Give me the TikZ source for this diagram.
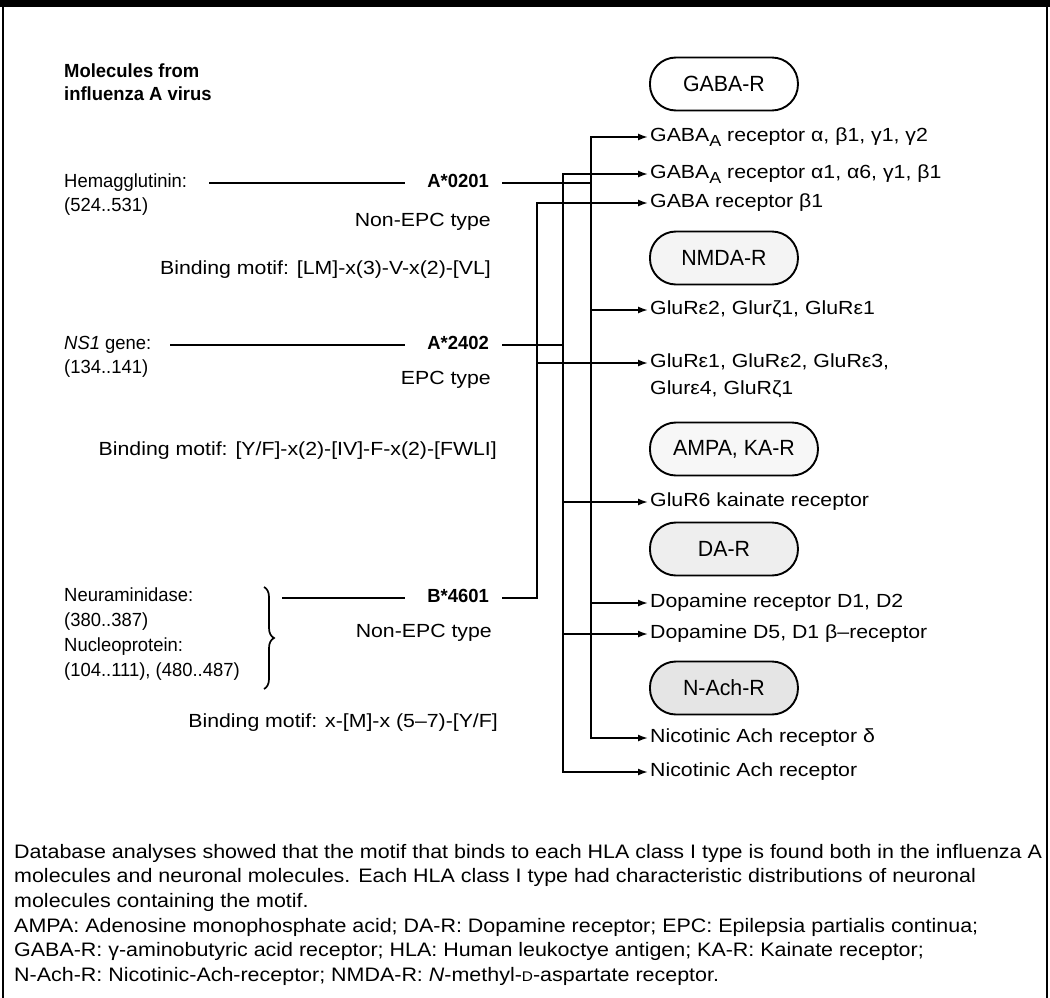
\documentclass[tikz,border=0pt]{standalone}
\usepackage{fontspec}
\setmainfont[FakeStretch=1.12]{Liberation Sans}
\newfontfamily\leftfont[FakeStretch=0.97]{Liberation Sans}
\newfontfamily\notefont[FakeStretch=1.1]{Liberation Sans}
\usetikzlibrary{arrows.meta,decorations.pathreplacing}

\newcommand\subA{\raisebox{-0.45ex}{\fontsize{16}{16}\selectfont A}}
\newcommand\smD{{\fontsize{14}{14}\selectfont D}}

\tikzset{
  lbl/.style={inner sep=0pt, text height=13pt, text depth=4pt, anchor=west,
    font=\leftfont\fontsize{19}{22}\selectfont},
  mid/.style={lbl, anchor=east, font=\fontsize{19}{22}\selectfont},
  hla/.style={lbl, anchor=east, font=\leftfont\fontsize{19}{22}\selectfont\bfseries},
  rcp/.style={lbl, inner xsep=2pt, font=\fontsize{19}{22}\selectfont},
  pill/.style={draw, line width=1.9pt, rounded corners=26pt, minimum width=148pt,
    minimum height=53pt, anchor=west, inner sep=0pt, font=\leftfont\fontsize{22}{24}\selectfont},
  link/.style={line width=1.7pt, line cap=rect},
  feed/.style={link, -{Latex[length=10pt,width=7pt]}},
}

\begin{document}
\begin{tikzpicture}[x=1pt,y=-1pt]
  \useasboundingbox (0,0) rectangle (1050,998);
  % Frame
  \fill (0,0) rectangle (1050,7);
  \draw[line width=1.5pt] (3,7) -- (3,998) (1047,7) -- (1047,998);

  % Influenza A molecules (left)
  \node[lbl, font=\leftfont\fontsize{19}{22}\selectfont\bfseries] (head1) at (64,73) {Molecules from};
  \node[lbl, font=\leftfont\fontsize{19}{22}\selectfont\bfseries] (head2) at (64,96) {influenza A virus};
  \node[lbl] (hem) at (64,183) {Hemagglutinin:};
  \node[lbl] (hemr) at (64,207) {(524..531)};
  \node[lbl] (ns1) at (64,345) {\textit{NS1} gene:};
  \node[lbl] (ns1r) at (64,369) {(134..141)};
  \node[lbl] (neu) at (64,597) {Neuraminidase:};
  \node[lbl] (neur) at (64,622) {(380..387)};
  \node[lbl] (nuc) at (64,647) {Nucleoprotein:};
  \node[lbl] (nucr) at (64,672) {(104..111), (480..487)};
  \draw[line width=1.7pt, decorate, decoration={brace, amplitude=10pt}] (264,587) -- (264,689);
  \coordinate (brtip) at (283,0);

  % HLA class I types
  \node[hla] (a0201) at (489,183) {A*0201};
  \node[mid] (t1) at (491,222) {Non-EPC type};
  \node[mid] (m1) at (491,270) {Binding motif: [LM]-x(3)-V-x(2)-[VL]};
  \node[hla] (a2402) at (489,345) {A*2402};
  \node[mid] (t2) at (491,380) {EPC type};
  \node[mid] (m2) at (497,451) {Binding motif: [Y/F]-x(2)-[IV]-F-x(2)-[FWLI]};
  \node[hla] (b4601) at (489,598) {B*4601};
  \node[mid] (t3) at (492,633) {Non-EPC type};
  \node[mid] (m3) at (498,723) {Binding motif: x-[M]-x (5--7)-[Y/F]};

  \draw[link] ([xshift=23pt]hem.east) -- ([xshift=-23pt]a0201.west);
  \draw[link] ([xshift=19pt]ns1.east) -- ([xshift=-23pt]a2402.west);
  \draw[link] (brtip |- b4601.west) -- ([xshift=-23pt]b4601.west);

  % Neuronal molecules (right)
  \node[pill, fill=white] (gabar) at (649,84) {GABA-R};
  \node[pill, fill=gray!9] (nmdar) at (649,258) {NMDA-R};
  \node[pill, fill=gray!6, minimum width=168pt] (ampar) at (649,449) {AMPA, KA-R};
  \node[pill, fill=gray!13] (dar) at (649,549) {DA-R};
  \node[pill, fill=gray!20] (nachr) at (649,688) {N-Ach-R};

  \node[rcp] (r1) at (648,137) {GABA\subA{} receptor α, β1, γ1, γ2};
  \node[rcp] (r2) at (648,174) {GABA\subA{} receptor α1, α6, γ1, β1};
  \node[rcp] (r3) at (648,203) {GABA receptor β1};
  \node[rcp] (r4) at (648,310) {GluRε2, Glurζ1, GluRε1};
  \node[rcp] (r5) at (648,363) {GluRε1, GluRε2, GluRε3,};
  \node[rcp] (r5b) at (648,390) {Glurε4, GluRζ1};
  \node[rcp] (r6) at (648,502) {GluR6 kainate receptor};
  \node[rcp] (r7) at (648,603) {Dopamine receptor D1, D2};
  \node[rcp] (r8) at (648,634) {Dopamine D5, D1 β--receptor};
  \node[rcp] (r9) at (648,738) {Nicotinic Ach receptor δ};
  \node[rcp] (r10) at (648,772) {Nicotinic Ach receptor};

  % Bus lines from each HLA type
  \coordinate (busA) at (591,0);
  \coordinate (busB) at (563,0);
  \coordinate (busC) at (537,0);
  \draw[link] ([xshift=14pt]a0201.east) -- (a0201.east -| busA);
  \draw[link] (busA |- r1.west) -- (busA |- r9.west);
  \foreach \r in {r1,r4,r7,r9}
    \draw[feed] (busA |- \r.west) -- (\r.west);
  \draw[link] ([xshift=14pt]a2402.east) -- (a2402.east -| busB);
  \draw[link] (busB |- r2.west) -- (busB |- r10.west);
  \foreach \r in {r2,r6,r8,r10}
    \draw[feed] (busB |- \r.west) -- (\r.west);
  \draw[link] ([xshift=14pt]b4601.east) -- (b4601.east -| busC);
  \draw[link] (busC |- r3.west) -- (busC |- b4601.east);
  \foreach \r in {r3,r5}
    \draw[feed] (busC |- \r.west) -- (\r.west);

  % Caption
  \node[anchor=north west, align=left, inner sep=0pt,
    font=\notefont\fontsize{19.5}{24.6}\selectfont] (note) at (14,844)
    {Database analyses showed that the motif that binds to each HLA class I type is found both in the influenza A\\
     molecules and neuronal molecules. Each HLA class I type had characteristic distributions of neuronal\\
     molecules containing the motif.\\
     AMPA: Adenosine monophosphate acid; DA-R: Dopamine receptor; EPC: Epilepsia partialis continua;\\
     GABA-R: γ-aminobutyric acid receptor; HLA: Human leukoctye antigen; KA-R: Kainate receptor;\\
     N-Ach-R: Nicotinic-Ach-receptor; NMDA-R: \textit{N}-methyl-\smD-aspartate receptor.};
\end{tikzpicture}
\end{document}
